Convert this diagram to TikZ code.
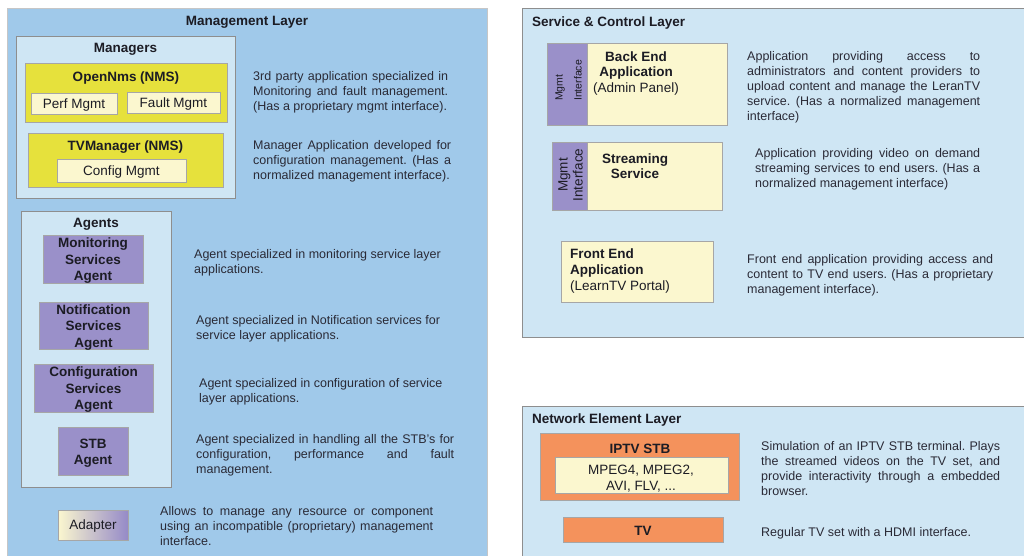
\documentclass[tikz,border=0pt]{standalone}
\usepackage{fontspec}
\setmainfont{Liberation Sans}
\usetikzlibrary{fit}
\definecolor{mgmtblue}{HTML}{A0C9EA}
\definecolor{panelblue}{HTML}{CFE6F4}
\definecolor{nmsyel}{HTML}{E6E13C}
\definecolor{lightyel}{HTML}{FBF7CF}
\definecolor{agentpur}{HTML}{9A90C9}
\definecolor{adappur}{HTML}{958AC8}
\definecolor{stborange}{HTML}{F4925C}
\definecolor{edgegray}{HTML}{8E8E8E}
\definecolor{txt}{HTML}{1C1C24}
\definecolor{desctext}{HTML}{2A2A36}
\newcommand\jl[2]{\makebox[#1pt][s]{#2}}
\tikzset{
  layerbox/.style={fill=mgmtblue, draw=gray!45, line width=0.8pt, inner sep=0pt},
  panelbox/.style={fill=panelblue, draw=edgegray, line width=0.8pt, inner sep=0pt},
  nmsbox/.style={fill=nmsyel, draw=gray!70, line width=0.8pt, inner sep=0pt},
  subbox/.style={fill=lightyel, draw=gray!70, line width=0.8pt, inner sep=0pt},
  agentbox/.style={fill=agentpur, draw=gray!70, line width=0.8pt, inner sep=0pt},
  stripbox/.style={fill=agentpur, draw=gray!70, line width=0.8pt, inner sep=0pt},
  orangebox/.style={fill=stborange, draw=gray!70, line width=0.8pt, inner sep=0pt},
  title/.style={font=\fontsize{13.5}{16}\selectfont\bfseries, text=txt, inner sep=0pt},
  agenttext/.style={font=\fontsize{13.5}{16.5}\selectfont\bfseries, text=txt, inner sep=0pt, align=center, yshift=-2pt},
  boxtext/.style={font=\fontsize{13.5}{15.5}\selectfont, text=txt, inner sep=0pt, align=center, yshift=-1.5pt},
  descr/.style={font=\fontsize{12.5}{15}\selectfont, text=desctext, inner sep=0pt, anchor=west, align=left, yshift=-1pt},
}
\frenchspacing
\begin{document}
\begin{tikzpicture}[x=1pt, y=-1pt]
\clip (0,0) rectangle (1024,556);
\fill[white] (0,0) rectangle (1024,556);

% ---------- Management Layer ----------
\node[layerbox, fit={(7,8) (487,560)}] (mgmt) {};
\node[title] (mgmtT) at (247,22) {Management Layer};

\node[panelbox, fit={(16,36) (235,198)}] (managers) {};
\node[title] (managersT) at (125.5,49) {Managers};

\node[nmsbox, fit={(25,63) (227,122)}] (opennms) {};
\node[title] (opennmsT) at (126,78) {OpenNms (NMS)};
\node[subbox, fit={(31,93) (117,114)}] (perf) {};
\node[boxtext] (perfT) at (perf.center) {Perf Mgmt};
\node[subbox, fit={(127,92) (220,113)}] (fault) {};
\node[boxtext] (faultT) at (fault.center) {Fault Mgmt};

\node[nmsbox, fit={(28,133) (223,187)}] (tvman) {};
\node[title] (tvmanT) at (125.5,147) {TVManager (NMS)};
\node[subbox, fit={(57,159) (186,182)}] (config) {};
\node[boxtext] (configT) at (config.center) {Config Mgmt};

\node[descr] (d1) at (253,91) {\jl{195}{3rd party application specialized in}\\\jl{195}{Monitoring and fault management.}\\(Has a proprietary mgmt interface).};
\node[descr] (d2) at (253,160) {\jl{198}{Manager Application developed for}\\\jl{198}{configuration management. (Has a}\\normalized management interface).};

\node[panelbox, fit={(21,211) (171,487)}] (agents) {};
\node[title] (agentsT) at (96,224) {Agents};
\node[agentbox, fit={(43,235) (143,283)}] (mon) {};
\node[agenttext] (monT) at (mon.center) {Monitoring\\Services\\Agent};
\node[agentbox, fit={(39,302) (148,349)}] (notif) {};
\node[agenttext] (notifT) at (notif.center) {Notification\\Services\\Agent};
\node[agentbox, fit={(34,364) (153,412)}] (conf) {};
\node[agenttext] (confT) at (conf.center) {Configuration\\Services\\Agent};
\node[agentbox, fit={(58,427) (128,475)}] (stb) {};
\node[agenttext] (stbT) at (stb.center) {STB\\Agent};

\node[descr] (d3) at (194,261.5) {Agent specialized in monitoring service layer\\applications.};
\node[descr] (d4) at (196,328) {Agent specialized in Notification services for\\service layer applications.};
\node[descr] (d5) at (199,390.5) {Agent specialized in configuration of service\\layer applications.};
\node[descr] (d6) at (196,454) {\jl{258}{Agent specialized in handling all the STB's for}\\\jl{258}{configuration, performance and fault}\\management.};

\node[draw=gray!70, line width=0.8pt, inner sep=0pt, shading=axis, left color=lightyel, right color=adappur,
  fit={(58,510) (128,540)}] (adapter) {};
\node[boxtext] (adapterT) at (adapter.center) {Adapter};
\node[descr] (d7) at (160,525) {\jl{273}{Allows to manage any resource or component}\\\jl{273}{using an incompatible (proprietary) management}\\interface.};

% ---------- Service & Control Layer ----------
\node[panelbox, fit={(522,8) (1030,337)}] (svc) {};
\node[title, anchor=west] (svcT) at (532,23) {Service \& Control Layer};

\node[stripbox, fit={(547,43) (587,125)}] (beStrip) {};
\node[subbox, fit={(587,43) (727,125)}] (be) {};
\node[rotate=90, anchor=west, align=left, inner sep=0pt, text=txt,
  font=\fontsize{10.5}{19}\selectfont] (beMgmt) at (568.5,101) {Mgmt\\Interface};
\node[boxtext] (beT) at (636,72) {\textbf{Back End}\\\textbf{Application}\\(Admin Panel)};
\node[descr] (r1) at (747,86) {\jl{233}{Application providing access to}\\\jl{233}{administrators and content providers to}\\\jl{233}{upload content and manage the LeranTV}\\\jl{233}{service. (Has a normalized management}\\interface)};

\node[stripbox, fit={(552,142) (587,210)}] (ssStrip) {};
\node[subbox, fit={(587,142) (722,210)}] (ss) {};
\node[rotate=90, align=center, inner sep=0pt, text=txt,
  font=\fontsize{13.5}{15}\selectfont] (ssMgmt) at (570.5,175) {Mgmt\\Interface};
\node[boxtext, font=\fontsize{13.5}{15}\selectfont\bfseries] (ssT) at (635,164.5) {Streaming\\Service};
\node[descr] (r2) at (755,168) {\jl{225}{Application providing video on demand}\\\jl{225}{streaming services to end users. (Has a}\\normalized management interface)};

\node[subbox, fit={(561,241) (713,302)}] (fe) {};
\node[boxtext, anchor=west, align=left, font=\fontsize{13.5}{16}\selectfont] (feT) at (570,270) {\textbf{Front End}\\\textbf{Application}\\(LearnTV Portal)};
\node[descr] (r3) at (747,274) {\jl{246}{Front end application providing access and}\\\jl{246}{content to TV end users. (Has a proprietary}\\management interface).};

% ---------- Network Element Layer ----------
\node[panelbox, fit={(522,406) (1030,560)}] (net) {};
\node[title, anchor=west] (netT) at (532,420) {Network Element Layer};

\node[orangebox, fit={(540,433) (739,500)}] (iptv) {};
\node[title] (iptvT) at (640,449) {IPTV STB};
\node[subbox, fit={(555,457) (728,493)}] (codec) {};
\node[boxtext, font=\fontsize{13.5}{16}\selectfont] (codecT) at (641,477) {MPEG4, MPEG2,\\AVI, FLV, ...};
\node[descr] (r4) at (761,467.5) {\jl{239}{Simulation of an IPTV STB terminal. Plays}\\\jl{239}{the streamed videos on the TV set, and}\\\jl{239}{provide interactivity through a embedded}\\browser.};

\node[orangebox, fit={(563,517) (723,542)}] (tv) {};
\node[title, yshift=-1pt] (tvT) at (tv.center) {TV};
\node[descr] (r5) at (761,532) {Regular TV set with a HDMI interface.};
\end{tikzpicture}
\end{document}
